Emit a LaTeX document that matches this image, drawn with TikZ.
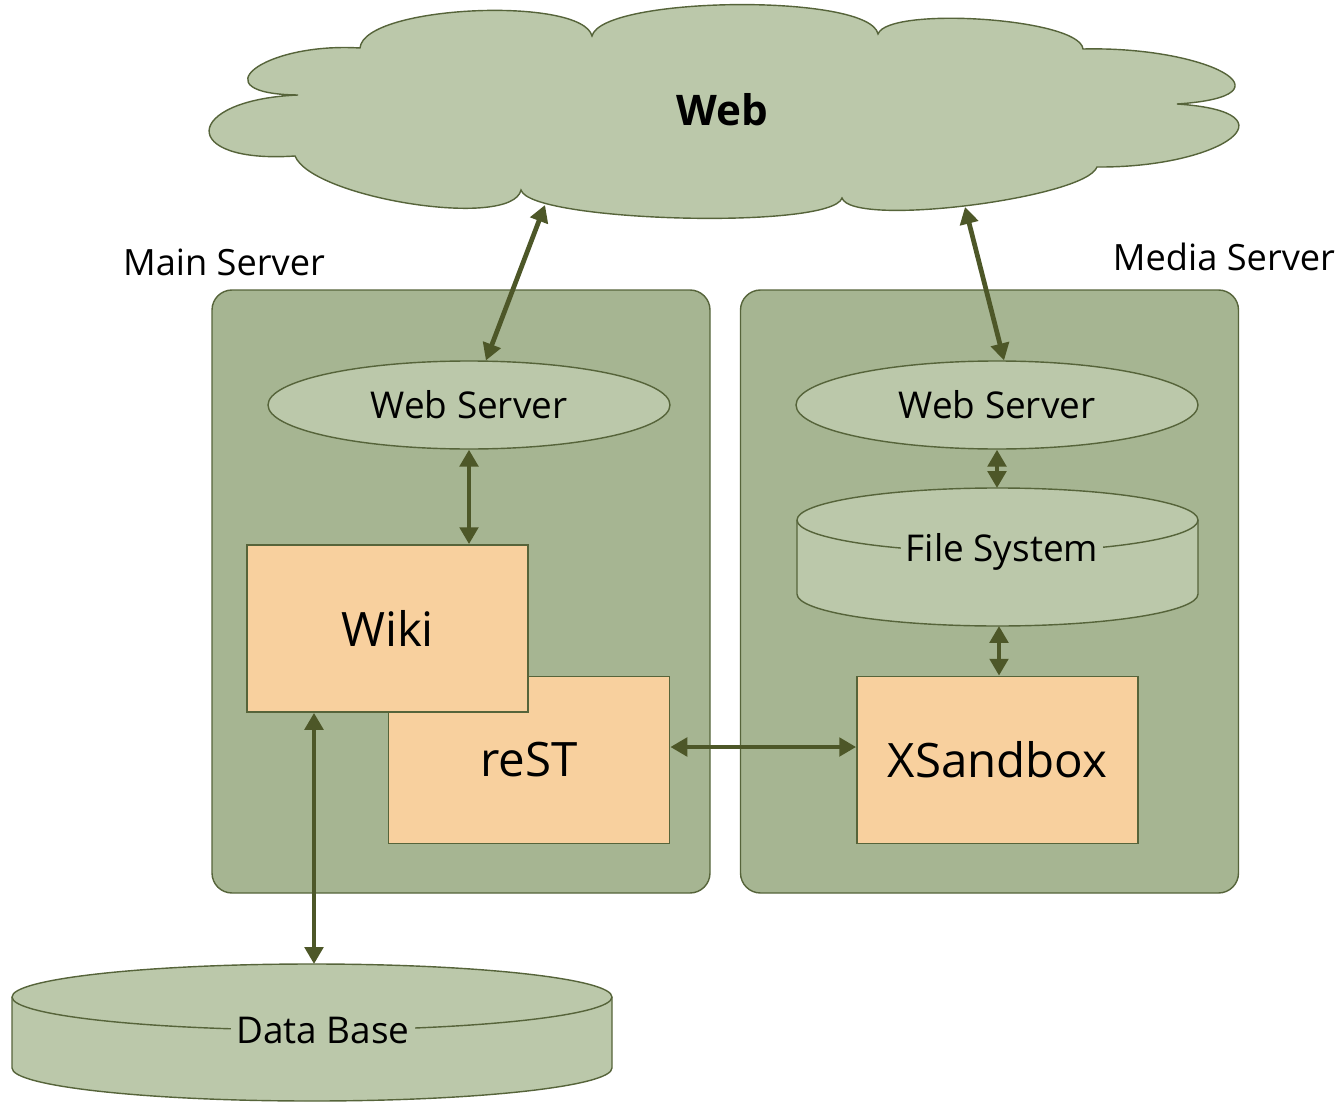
\documentclass[tikz,border=0pt]{standalone}
\usepackage{fontspec}
\setmainfont{Open Sans}
\usetikzlibrary{arrows.meta,calc,shapes.geometric}
\definecolor{cloudgreen}{HTML}{BBC8AA}
\definecolor{boxgreen}{HTML}{A6B592}
\definecolor{peach}{HTML}{F8D09E}
\definecolor{olive}{HTML}{4D5728}
\definecolor{rim}{HTML}{56643A}
\def\drum(#1,#2)(#3:#4:#5){\draw[rim, fill=cloudgreen] (#1,#2) -- ++(0,#5) arc[start angle=180, end angle=0, x radius=#3, y radius=#4] -- ++(0,-#5) arc[start angle=0, end angle=-180, x radius=#3, y radius=#4] -- cycle;
	\draw[rim] (#1,#2) arc[start angle=180, end angle=0, x radius=#3, y radius=#4];}
\tikzset{
	server/.style={draw=rim, fill=boxgreen, rounded corners=2mm, minimum width=49.8mm, minimum height=60.3mm},
	srvlabel/.style={font=\fontsize{10.3}{12}\selectfont},
	wserver/.style={ellipse, draw=rim, fill=cloudgreen, inner sep=0pt, minimum width=40.2mm, minimum height=8.8mm, font=\fontsize{10.5}{12}\selectfont},
	module/.style={draw=rim, fill=peach, line width=0.5pt, minimum width=28.1mm, minimum height=16.7mm, font=\fontsize{13.5}{16}\selectfont},
	drumlabel/.style={fill=cloudgreen, inner xsep=0.5mm, inner ysep=0.3mm, font=\fontsize{10.5}{12}\selectfont},
	link/.style={{Triangle[length=4.8pt,width=5.2pt]}-{Triangle[length=4.8pt,width=5.2pt]}, draw=olive, line width=1.35pt}
}

\begin{document}
\begin{tikzpicture}[x=0.1mm, y=-0.1mm]
		\useasboundingbox (0,0) rectangle (1341,1102);
		%%%%% START %%%%%
		
		% the web
		\draw[rim, fill=cloudgreen] (360,48) .. controls (364,5) and (582,-4) .. (592,36)
			.. controls (602,-4) and (870,-7) .. (878,34)
			.. controls (888,6) and (1080,18) .. (1083,49)
			.. controls (1208,46) and (1300,96) .. (1177,104)
			.. controls (1300,112) and (1222,168) .. (1097,167)
			.. controls (1086,198) and (852,228) .. (842,198)
			.. controls (832,230) and (530,222) .. (521,190)
			.. controls (512,230) and (312,198) .. (295,156)
			.. controls (178,164) and (182,100) .. (298,95)
			.. controls (198,94) and (262,42) .. (360,48) -- cycle;
		\node[font=\fontsize{12}{14}\selectfont\bfseries] (web) at (722,110) {Web};
		\coordinate (webL) at (545,205);
		\coordinate (webR) at (965,207);
		
		% servers
		\node[server] (mainsrv) at (461,591.5) {};
		\node[server] (mediasrv) at (989.5,591.5) {};
		\node[srvlabel] (mainlbl) at (224,262) {Main Server};
		\node[srvlabel] (medialbl) at (1224,257) {Media Server};
		
		\node[wserver] (mainws) at (469,405) {Web Server};
		\node[wserver] (mediaws) at (997,405) {Web Server};
		
		\node[module] (rest) at (529,760) {reST};
		\node[module] (wiki) at (387.5,628.5) {Wiki};
		\node[module] (xsb) at (997.5,760) {XSandbox};
		
		% storage
		\drum(797,520)(200.5:32:74)
		\node[drumlabel] (fs) at (1002,552) {File System};
		\coordinate (fstop) at (997,488);
		\coordinate (fsbot) at (999,626);
		
		\drum(12,997)(300:33:71)
		\node[drumlabel] (db) at (323,1030) {Data Base};
		\coordinate (dbtop) at (314,964);
		
		% links
		\draw[link] (webL) -- (mainws);
		\draw[link] (webR) -- (mediaws.81);
		\draw[link] (mainws.south) -- (mainws.south |- wiki.north);
		\draw[link] (mediaws.south) -- (fstop);
		\draw[link] (fsbot) -- (xsb.north -| fsbot);
		\draw[link] ([yshift=1.3mm]rest.east) -- ([yshift=1.3mm]xsb.west);
		\draw[link] (wiki.south -| dbtop) -- (dbtop);
		
		%%%%% END %%%%%
	\end{tikzpicture}
\end{document}
